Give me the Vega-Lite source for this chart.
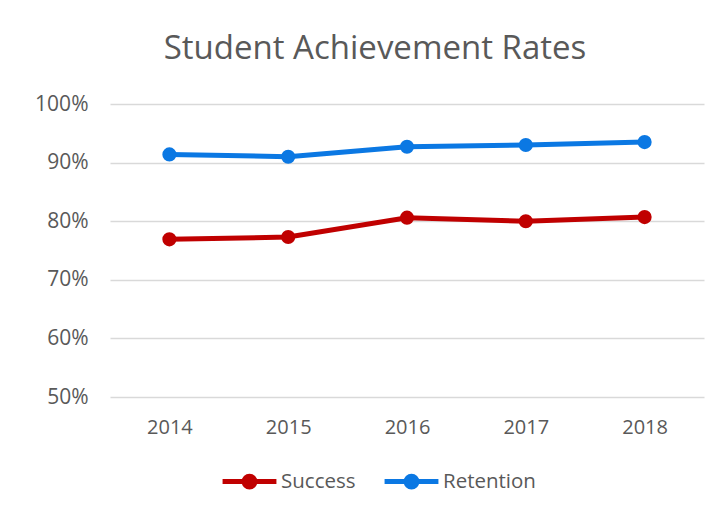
{
  "$schema": "https://vega.github.io/schema/vega-lite/v6.json",
  "width": 594,
  "height": 293,
  "autosize": {"type": "none"},
  "padding": {"left": 110, "top": 104, "right": 17, "bottom": 118},
  "background": "white",
  "title": {
    "text": "Student Achievement Rates",
    "anchor": "middle",
    "frame": "group",
    "dx": -32,
    "offset": 1,
    "baseline": "alphabetic",
    "font": "Open Sans",
    "fontSize": 33,
    "fontWeight": "normal",
    "color": "#595959"
  },
  "data": {
    "values": [
      {"year": "2014", "series": "Success", "rate": 0.769},
      {"year": "2015", "series": "Success", "rate": 0.773},
      {"year": "2016", "series": "Success", "rate": 0.806},
      {"year": "2017", "series": "Success", "rate": 0.800},
      {"year": "2018", "series": "Success", "rate": 0.807},
      {"year": "2014", "series": "Retention", "rate": 0.914},
      {"year": "2015", "series": "Retention", "rate": 0.910},
      {"year": "2016", "series": "Retention", "rate": 0.927},
      {"year": "2017", "series": "Retention", "rate": 0.930},
      {"year": "2018", "series": "Retention", "rate": 0.935}
    ]
  },
  "mark": {
    "type": "line",
    "strokeWidth": 5,
    "point": {"filled": true, "size": 200, "opacity": 1}
  },
  "encoding": {
    "x": {
      "field": "year",
      "type": "ordinal",
      "scale": {"padding": 0.5},
      "axis": {
        "title": null,
        "labelAngle": 0,
        "domain": false,
        "ticks": false,
        "labelPadding": 20,
        "labelFont": "Open Sans",
        "labelFontSize": 20,
        "labelColor": "#595959"
      }
    },
    "y": {
      "field": "rate",
      "type": "quantitative",
      "scale": {"domain": [0.5, 1], "nice": false, "zero": false},
      "axis": {
        "title": null,
        "format": ".0%",
        "values": [0.5, 0.6, 0.7, 0.8, 0.9, 1.0],
        "domain": false,
        "ticks": false,
        "labelPadding": 22,
        "labelFont": "Open Sans",
        "labelFontSize": 21,
        "labelColor": "#595959",
        "gridColor": "#d9d9d9",
        "gridWidth": 1.5
      }
    },
    "color": {
      "field": "series",
      "type": "nominal",
      "sort": ["Success", "Retention"],
      "scale": {"domain": ["Success", "Retention"], "range": ["#C00000", "#0B78E3"]},
      "legend": {
        "title": null,
        "orient": "none",
        "legendX": 110,
        "legendY": 348,
        "direction": "horizontal",
        "symbolType": "M-1,0H1M0.2,0A0.2,0.2,0,1,1,-0.2,0A0.2,0.2,0,1,1,0.2,0",
        "symbolSize": 2900,
        "symbolStrokeWidth": 5,
        "symbolOpacity": 1,
        "labelFont": "Open Sans",
        "labelFontSize": 20.5,
        "labelColor": "#595959",
        "labelOffset": 2,
        "columnPadding": 18
      }
    }
  },
  "config": {
    "view": {"stroke": null}
  }
}
